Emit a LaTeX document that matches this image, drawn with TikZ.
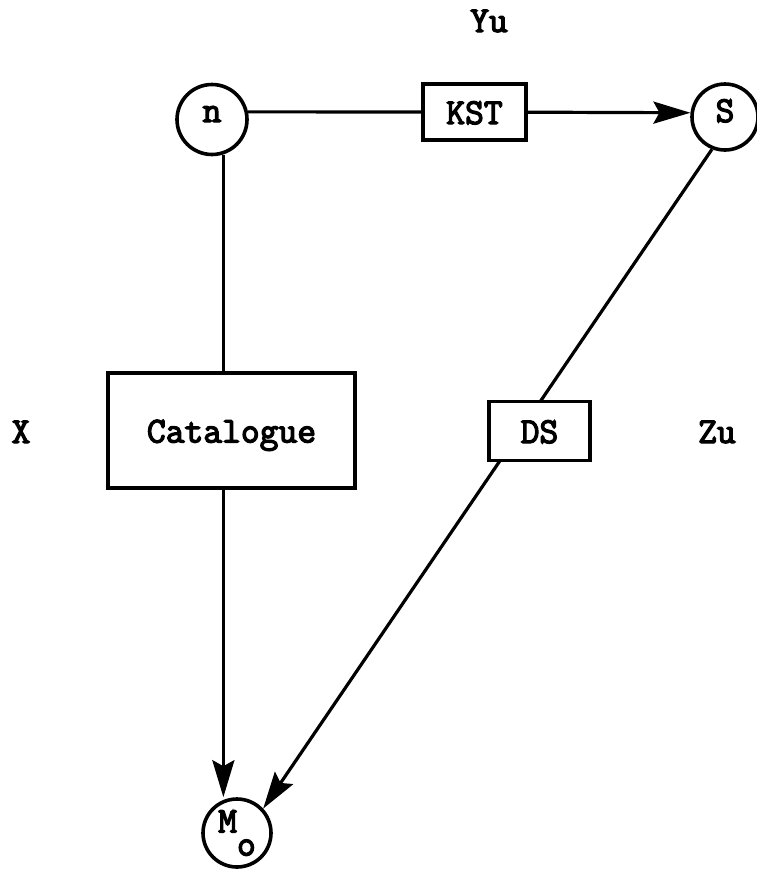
\documentclass[tikz,border=0pt]{standalone}
\usepackage{fontspec}
\usetikzlibrary{arrows.meta}
\newfontfamily\twface[FakeBold=3.6]{Latin Modern Mono}
\newcommand\twfont{\twface\bfseries\fontsize{36.5}{40}\selectfont}
\tikzset{
  every node/.style={font=\twfont, inner sep=0pt},
  ring/.style={draw, circle, line width=3.6pt},
  blk/.style={draw, rectangle, line width=3.6pt, fill=white, text height=24pt, text depth=0pt},
  conn/.style={line width=3.2pt},
  arr/.style={conn, -{Stealth[length=37pt,width=22pt,inset=6pt]}},
  lbl/.style={anchor=base}
}
\begin{document}
\begin{tikzpicture}[x=1pt,y=-1pt]
\useasboundingbox (0,0) rectangle (757,871);
% circles
\node[ring, minimum size=70pt, text height=16pt, text depth=11pt] (n) at (212,119.5) {n};
\node[ring, minimum size=66pt, text height=22pt, text depth=12pt] (S) at (725,117) {S};
\node[ring, minimum size=68pt] (M0) at (237,833) {M\raisebox{-23pt}{o}};
% boxes
\node[blk, minimum width=103pt, minimum height=56pt] (KST) at (474.5,112) {KST};
\node[blk, minimum width=247pt, minimum height=115pt] (cat) at (231.5,430.5) {Catalogue};
% labels
\node[lbl] (yu) at (489,32) {Yu};
\node[lbl] (xl) at (21,443) {X};
\node[lbl] (zu) at (717,443) {Zu};
% connectors
\draw[conn] (n.12) -- (KST);
\draw[arr] (KST) -- (S.173);
\draw[conn] (n.-72) -- (n.-72 |- cat.north);
\draw[arr] (n.-72 |- cat.south) -- (n.-72 |- M0.north);
\draw[arr] (S.-112) -- (M0.43);
\node[blk, minimum width=101pt, minimum height=59pt] (DS) at (539.5,431) {DS};
\end{tikzpicture}
\end{document}
